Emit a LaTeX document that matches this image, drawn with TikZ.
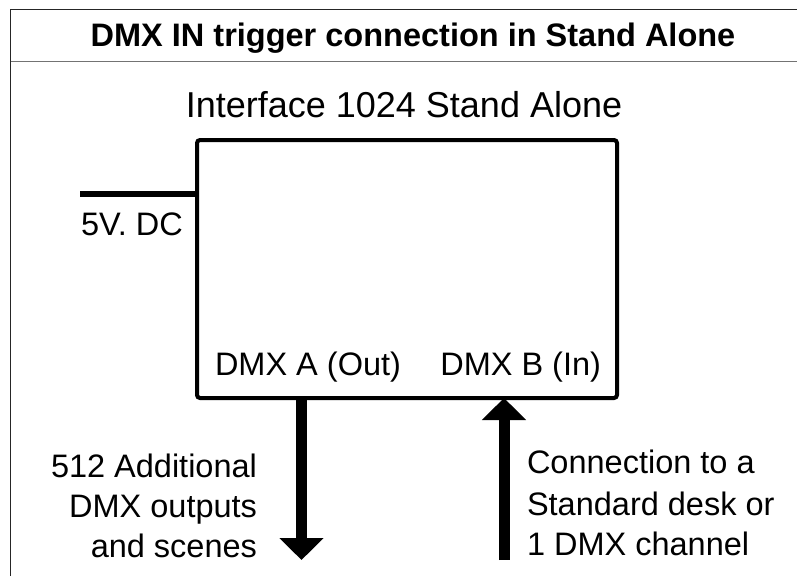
\documentclass[tikz,border=0pt]{standalone}
\usepackage{fontspec}
\setmainfont{Liberation Sans}
\usetikzlibrary{arrows.meta}
\begin{document}
\begin{tikzpicture}[x=1pt,y=-1pt,
  lbl/.style={inner sep=0pt, outer sep=0pt, font=\fontsize{32.5}{38}\selectfont},
  frameline/.style={line width=1.5pt},
  bigarrow/.style={line width=11pt, -{Triangle[width=43pt,length=22pt]}}]
\useasboundingbox (0,0) rectangle (797,576);
\fill[white] (0,0) rectangle (797,576);
% frame
\draw[frameline, color=black!85] (10.5,576) -- (10.5,9.5) -- (797,9.5);
\draw[frameline, color=black!55] (10.5,61.5) -- (797,61.5);
\node[inner sep=0pt, font=\bfseries\fontsize{32.5}{38}\selectfont, anchor=base] (title) at (413,46) {DMX IN trigger connection in Stand Alone};
% box
\node[draw, line width=4pt, rounded corners=3pt, minimum width=420pt, minimum height=258pt,
      inner sep=0pt, outer sep=0pt, anchor=north west] (box) at (197,140) {};
\node[lbl, font=\fontsize{36}{42}\selectfont, anchor=base] (iface) at (404,117) {Interface 1024 Stand Alone};
% power
\coordinate (pwr) at (80,194);
\draw[line width=6pt] (pwr) -- (pwr -| box.west);
\node[lbl, anchor=base west] (dc) at (81,235) {5V. DC};
% ports
\node[lbl, anchor=base west] (porta) at (215,375) {DMX A (Out)};
\node[lbl, anchor=base east] (portb) at (601,375) {DMX B (In)};
% arrows
\coordinate (outA) at (301.5,560);
\coordinate (inB) at (504,560);
\draw[bigarrow] (box.south -| outA) -- (outA);
\draw[bigarrow] (inB) -- (inB |- box.south);
% left text
\node[lbl, anchor=base east] (l1) at (257,477) {512 Additional};
\node[lbl, anchor=base east] (l2) at (257,517) {DMX outputs};
\node[lbl, anchor=base east] (l3) at (257,557) {and scenes};
% right text
\node[lbl, anchor=base west] (r1) at (527,473) {Connection to a};
\node[lbl, anchor=base west] (r2) at (527,515) {Standard desk or};
\node[lbl, anchor=base west] (r3) at (527,555) {1 DMX channel};
\end{tikzpicture}
\end{document}
